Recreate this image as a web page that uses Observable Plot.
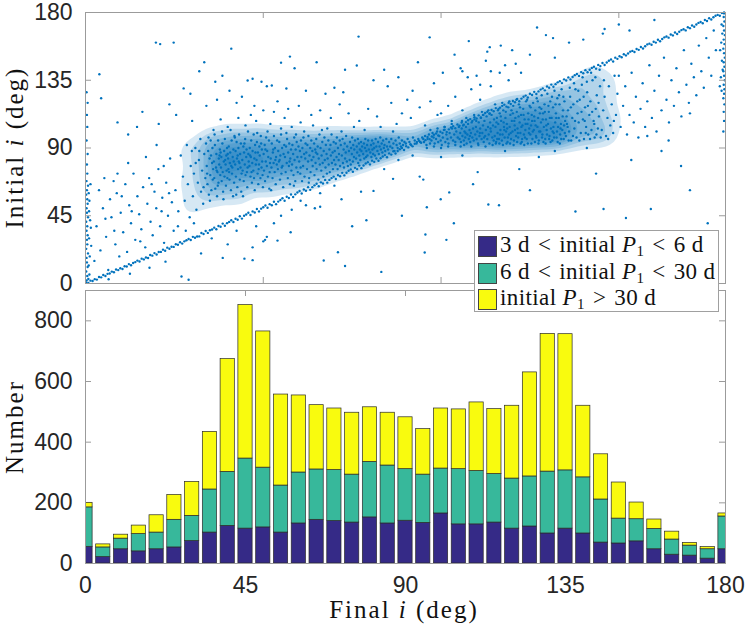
<!DOCTYPE html>
<html><head><meta charset="utf-8">
<script src="https://cdn.jsdelivr.net/npm/d3@7"></script>
<script src="https://cdn.jsdelivr.net/npm/@observablehq/plot@0.6"></script>
<style>
body{margin:0;background:#fff;}
#wrap{position:relative;width:747px;height:627px;overflow:hidden;}
#wrap svg{position:absolute;left:0;}
#legend{position:absolute;left:474px;top:230px;width:245px;height:82px;border:1px solid #a0a0a0;background:#fff;font-family:"Liberation Serif","DejaVu Serif",serif;font-size:23px;letter-spacing:0.4px;color:#111;box-sizing:border-box;}
.row{position:absolute;left:3px;height:26px;display:flex;align-items:center;white-space:nowrap;}
.sw{width:19px;height:21px;border:1px solid #444;box-sizing:border-box;margin-right:3px;}
.lt{margin:0 8px;}
sub{font-size:65%;vertical-align:-0.25em;}
</style></head><body><div id="wrap"></div>
<script>
// ---------- histogram data (bins of 5 deg, centred on 0..180) ----------
const binCenters = [0,5,10,15,20,25,30,35,40,45,50,55,60,65,70,75,80,85,90,95,100,105,110,115,120,125,130,135,140,145,150,155,160,165,170,175,180];
const countShort = [55,21,47,40,47,53,74,102,124,115,119,102,132,144,140,135,152,132,141,134,165,129,129,135,115,122,99,115,99,69,66,73,47,29,26,16,47];
const countMid   = [130,32,35,57,55,91,83,142,178,231,197,155,168,166,168,158,183,191,170,159,148,182,176,160,165,165,204,192,185,142,82,73,67,50,33,31,108];
const countLong  = [15,10,13,28,57,82,112,190,372,506,449,300,254,212,203,204,180,174,171,150,198,197,226,214,240,343,454,449,236,149,119,55,31,26,9,7,10];
const seriesNames = ["3 d < initial P1 < 6 d","6 d < initial P1 < 30 d","initial P1 > 30 d"];
const seriesColors = ["#352A87","#37B89B","#F9FB0E"];

// ---------- tick values ----------
const topYTicks = [0,45,90,135,180];
const topXTicks = [50,100,150];
const bottomXTicks = [0,45,90,135,180];
const bottomYTicks = [0,200,400,600,800];

// ---------- scatter data: [final i, initial i] pairs (deg) ----------
const diagonalBand = [0.2,0.5,0.8,0.4,1.4,1.9,2.0,1.7,2.6,2.9,3.2,2.6,3.8,4.3,4.4,4.1,5.0,5.6,5.6,5.0,6.2,6.4,6.8,6.6,7.4,7.9,8.0,7.5,8.6,9.3,9.2,8.9,9.8,10.1,10.4,9.6,11.0,11.5,11.6,11.3,12.2,12.9,12.8,12.1,13.4,13.6,14.0,14.2,14.6,15.2,15.2,14.6,15.8,16.5,16.4,16.0,17.0,17.3,17.6,16.9,18.2,18.9,18.8,18.5,19.4,20.2,20.0,19.3,20.6,20.9,21.2,21.0,21.8,22.5,22.4,21.8,23.0,23.8,23.6,23.1,24.2,24.4,24.8,24.3,25.4,26.1,26.0,25.7,26.6,27.4,27.2,26.5,27.8,28.0,28.4,28.7,29.0,29.6,29.6,28.9,
30.2,31.0,30.8,30.4,31.4,31.2,32.0,31.3,32.6,33.5,33.2,32.9,33.8,34.9,34.4,33.6,35.0,35.4,35.6,35.9,36.2,37.1,36.8,36.0,37.4,38.2,38.0,37.7,38.6,39.8,39.2,38.4,39.8,40.1,40.4,40.9,41.0,42.0,41.6,40.8,42.2,43.0,42.8,42.3,43.4,44.7,44.0,43.1,44.6,45.0,45.2,45.8,45.8,47.0,46.4,45.5,47.0,47.9,47.6,47.2,48.2,49.5,48.8,47.9,49.4,49.7,50.0,50.6,50.6,51.8,51.2,50.3,51.8,52.7,52.4,52.0,53.0,54.3,53.6,52.7,54.2,54.4,54.8,55.5,55.4,56.6,56.0,55.0,56.6,57.6,57.2,56.8,57.8,59.1,58.4,57.5,59.0,59.2,59.6,60.4,
60.2,61.4,60.8,59.8,61.4,62.4,62.0,61.6,62.6,64.0,63.2,62.2,63.8,64.0,64.4,65.2,65.0,66.3,65.6,64.6,66.2,67.2,66.8,66.4,67.4,68.8,68.0,67.0,68.6,68.8,69.2,70.0,69.8,71.0,70.4,69.4,71.0,72.0,71.6,71.2,72.2,73.5,72.8,71.8,73.4,73.6,74.0,74.9,74.6,75.8,75.2,74.2,75.8,76.8,76.4,76.0,77.0,78.3,77.6,76.6,78.2,78.4,78.8,79.7,79.4,80.5,80.0,79.1,80.6,81.6,81.2,80.8,81.8,83.0,82.4,81.5,83.0,83.2,83.6,84.4,84.2,85.3,84.8,83.9,85.4,86.4,86.0,85.6,86.6,87.8,87.2,86.3,87.8,88.0,88.4,89.2,89.0,90.0,89.6,88.7,
90.2,91.2,90.8,90.4,91.4,92.5,92.0,91.1,92.6,92.8,93.2,94.0,93.8,94.8,94.4,93.5,95.0,96.0,95.6,95.2,96.2,97.3,96.8,95.9,97.4,97.6,98.0,98.8,98.6,99.6,99.2,98.3,99.8,100.8,100.4,100.0,101.0,102.1,101.6,100.7,102.2,102.4,102.8,103.6,103.4,104.4,104.0,103.1,104.6,105.6,105.2,104.8,105.8,106.9,106.4,105.5,107.0,107.2,107.6,108.4,108.2,109.2,108.8,107.9,109.4,110.4,110.0,109.6,110.6,111.7,111.2,110.3,111.8,112.0,112.4,113.2,113.0,114.0,113.6,112.7,114.2,115.2,114.8,114.4,115.4,116.5,116.0,115.1,116.6,116.8,117.2,118.0,117.8,118.8,118.4,117.5,119.0,120.0,119.6,119.2,
120.2,121.2,120.8,120.4,121.4,122.5,122.0,121.1,122.6,122.8,123.2,124.0,123.8,124.8,124.4,123.5,125.0,126.0,125.6,125.2,126.2,127.3,126.8,125.9,127.4,127.6,128.0,128.8,128.6,129.6,129.2,128.3,129.8,130.8,130.4,130.0,131.0,132.1,131.6,130.7,132.2,132.4,132.8,133.6,133.4,134.4,134.0,133.1,134.6,135.6,135.2,134.8,135.8,136.9,136.4,135.5,137.0,137.2,137.6,138.4,138.2,139.2,138.8,137.9,139.4,140.4,140.0,139.6,140.6,141.7,141.2,140.3,141.8,142.0,142.4,143.2,143.0,144.0,143.6,142.7,144.2,145.2,144.8,144.4,145.4,146.5,146.0,145.1,146.6,146.8,147.2,148.0,147.8,148.8,148.4,147.5,149.0,150.0,149.6,149.2,
150.2,150.9,150.8,150.3,151.4,152.3,152.0,151.5,152.6,152.8,153.2,154.0,153.8,154.5,154.4,153.8,155.0,155.8,155.6,155.2,156.2,157.1,156.8,156.1,157.4,157.6,158.0,158.8,158.6,159.3,159.2,158.6,159.8,160.6,160.4,160.0,161.0,161.9,161.6,160.9,162.2,162.4,162.8,163.5,163.4,164.1,164.0,163.3,164.6,165.4,165.2,164.8,165.8,166.7,166.4,165.7,167.0,167.2,167.6,168.3,168.2,168.9,168.8,168.1,169.4,170.2,170.0,169.6,170.6,171.4,171.2,170.5,171.8,172.0,172.4,173.1,173.0,173.7,173.6,172.9,174.2,175.0,174.8,174.4,175.4,176.2,176.0,175.4,176.6,176.8,177.2,177.8,177.8,178.4,178.4,177.8,179.0,179.6,179.6,179.4];

const leftCluster = [25.3,62,26.1,48,26.8,85,27.4,71,27.9,55,28.5,92,28.8,66,29.3,44,29.6,78,29.9,88,
30.2,58,30.5,73,30.9,90,31.2,49,31.6,67,31.9,82,32.3,96,32.5,61,32.8,75,33.1,53,33.4,86,33.7,70,33.9,93,33.2,64,31.0,80,32.0,88,
34.1,78,34.3,66,34.5,88,34.7,59,34.9,83,35.1,72,35.2,95,35.4,62,35.6,80,35.7,90,35.8,69,35.9,76,34.6,97,35.3,85,34.2,73,35.0,55,
36.1,81,36.2,70,36.4,92,36.5,63,36.7,77,36.8,86,37.0,58,37.1,74,37.3,95,37.4,67,37.5,83,37.6,79,37.8,89,37.9,72,36.3,99,36.9,75,37.2,65,37.7,85,
38.1,77,38.2,84,38.3,68,38.5,93,38.6,74,38.7,61,38.9,81,39.0,88,39.1,71,39.2,96,39.4,79,39.5,65,39.6,85,39.7,75,39.8,90,38.4,101,38.8,56,39.3,82,39.9,70,38.0,87,
40.1,83,40.2,76,40.3,91,40.5,69,40.6,80,40.7,87,40.9,62,41.0,78,41.1,95,41.2,73,41.4,84,41.5,58,41.6,89,41.7,81,41.8,67,41.9,98,40.4,74,40.8,102,41.3,77,40.0,86,
42.1,79,42.2,88,42.3,71,42.5,94,42.6,83,42.7,64,42.9,76,43.0,90,43.1,81,43.2,99,43.4,69,43.5,86,43.6,77,43.7,93,43.9,73,42.4,59,42.8,85,43.3,80,43.8,61,42.0,97,
44.1,82,44.2,75,44.4,91,44.5,68,44.6,87,44.8,79,44.9,96,45.0,72,45.2,84,45.3,89,45.5,64,45.6,77,45.7,101,45.9,81,44.3,58,44.7,93,45.4,74,45.8,86,
46.1,78,46.2,90,46.4,71,46.5,84,46.6,95,46.8,67,46.9,80,47.0,88,47.2,75,47.3,99,47.5,83,47.6,62,47.7,92,47.9,79,46.3,85,46.7,74,47.4,70,47.8,87,
48.1,82,48.2,94,48.4,73,48.5,87,48.6,66,48.8,79,48.9,91,49.0,85,49.2,70,49.3,98,49.5,77,49.6,89,49.7,81,49.9,64,48.3,100,48.7,76,49.4,93,49.8,72,
50.1,86,50.2,75,50.4,92,50.5,68,50.7,81,50.8,97,51.0,78,51.1,88,51.3,71,51.4,84,51.6,95,51.7,63,51.9,80,50.6,89,51.2,101,51.8,74,
52.1,83,52.3,77,52.4,93,52.6,70,52.7,87,52.9,80,53.0,98,53.2,74,53.3,90,53.5,66,53.6,84,53.8,79,53.9,95,52.2,62,52.8,89,53.4,82,
54.1,76,54.2,88,54.4,81,54.5,94,54.7,69,54.8,85,55.0,99,55.1,73,55.3,90,55.4,78,55.6,64,55.7,86,55.9,92,54.6,82,55.2,77,
56.1,84,56.3,74,56.4,91,56.6,80,56.7,96,56.9,70,57.0,87,57.2,78,57.3,93,57.5,66,57.6,83,57.8,89,57.9,75,56.5,100,57.4,81,
58.1,79,58.2,92,58.4,86,58.5,72,58.7,97,58.8,82,59.0,68,59.1,89,59.3,77,59.4,94,59.6,84,59.7,74,59.9,91,58.6,65,59.2,99,
60.1,81,60.3,88,60.4,73,60.6,95,60.7,84,60.9,68,61.0,90,61.2,78,61.3,97,61.5,86,61.6,71,61.8,83,61.9,93,60.5,77,
62.1,87,62.3,76,62.4,92,62.6,81,62.7,98,62.9,70,63.0,85,63.2,90,63.3,74,63.5,95,63.6,82,63.8,88,63.9,78,62.8,67,
64.1,84,64.3,93,64.4,72,64.6,89,64.7,80,64.9,96,65.0,76,65.2,86,65.3,91,65.5,69,65.6,83,65.8,99,65.9,79,64.8,87,
66.1,90,66.3,75,66.4,85,66.6,94,66.7,80,66.9,71,67.0,88,67.2,97,67.3,82,67.5,77,67.6,92,67.8,86,67.9,73,
68.1,83,68.3,95,68.4,79,68.6,89,68.7,74,68.9,92,69.0,85,69.2,99,69.3,80,69.5,87,69.6,76,69.8,94,69.9,82,
70.1,88,70.3,79,70.4,93,70.6,84,70.7,97,70.9,76,71.0,90,71.2,82,71.3,86,71.5,95,71.6,78,71.8,92,
72.1,85,72.3,96,72.4,80,72.6,89,72.7,77,72.9,93,73.0,83,73.2,87,73.3,98,73.5,81,73.6,91,73.8,78,
74.1,88,74.3,82,74.4,94,74.6,79,74.7,90,74.9,86,75.0,97,75.2,81,75.3,92,75.5,84,75.6,89,75.8,95,
76.1,83,76.3,91,76.4,87,76.6,96,76.7,80,76.9,93,77.0,85,77.2,89,77.3,82,77.5,94,77.6,88,77.8,91,
78.1,86,78.3,93,78.4,83,78.6,90,78.7,96,78.9,84,79.0,88,79.2,92,79.3,85,79.5,95,79.7,89,
80.1,87,80.3,92,80.4,84,80.6,95,80.7,89,80.9,86,81.0,93,81.2,90,81.4,85,81.6,96,81.8,91,
82.1,88,82.3,94,82.5,86,82.7,91,82.9,97,83.1,89,83.3,93,83.5,87,83.7,95,83.9,90,84.1,92,84.3,88,84.6,96,84.8,91,
85.1,89,85.4,94,85.7,91,86.0,96,86.3,90,86.6,93,86.9,88,87.2,95,87.5,92,87.8,90,88.1,97,88.4,93,88.7,91,89.0,95,89.3,92,89.7,94,
90.1,93,90.6,96,91.1,94,91.6,92,92.1,97,92.6,95,93.1,93,93.6,96,94.1,94,94.7,97];

const leftSparse = [2.5,15,3.1,38,3.8,62,4.2,22,4.9,50,5.3,70,5.8,31,6.4,9,6.9,56,7.3,44,7.9,68,8.4,26,8.8,60,9.5,18,9.9,47,10.6,34,11.2,66,11.7,21,12.3,52,12.8,40,13.5,73,14.0,29,14.6,58,15.1,46,15.7,36,16.2,64,16.8,24,17.4,53,17.9,70,18.3,41,18.9,32,19.4,61,19.9,50,20.5,76,21.0,38,21.6,57,22.1,27,22.7,67,23.2,45,23.8,83,24.3,54,24.8,35,5.6,43,8.1,35,10.2,58,13.0,48,15.4,28,18.6,66,21.4,48,23.5,60,9.0,73,12.0,80,17.0,84,20.0,92,22.0,78,26.0,38,28.2,35,30.5,40,
6.5,2.8,12.5,6.5,18.0,10.5,22.5,14.5,27.0,4.6,29.0,2.5,32.5,20.0,38.6,17.0,40.0,26.0,44.7,16.5,35.5,30.0,42.5,35.0,48.0,38.0,50.5,29.0,47.0,24.0];

const upperOutliers = [19.8,160,21.0,159,24.8,160,41.0,156,3.9,139,4.4,123,33.4,147,32.0,141,27.6,129.6,23.6,119,16.0,114,9.0,107,25.5,112,20.6,106,76.8,164,96.8,163.5,107.8,161,57.5,150.7,55.0,146.7,65.0,147,58.8,143,73.0,142,76.3,144.8,93.5,147,103.8,152,113.0,154,45.6,134.8,47.0,136,49.5,134,51.0,131,52.4,131.5,56.5,129.5,36.5,134,38.5,138,40.5,128,37.0,122,42.5,120,44.0,124,29.5,126,34.0,118,12.0,99,14.5,104,30.0,108,62.0,128,67.5,126,70.0,130,72.5,127,81.0,135,85.0,131,88.0,137,92.0,128,98.0,133,84.0,142,100.5,140,90.5,122,60.0,118,63.5,112,66.0,115,69.0,110,71.5,119,74.0,113,77.0,108,79.5,116,82.0,111,86.0,120,87.5,106,89.0,113,91.5,110,94.0,117,95.5,105,97.0,121,99.0,112,46.5,112,48.0,108,50.0,115,52.0,106,54.0,121,56.0,110,58.0,104,60.5,107,43.0,110,45.0,105,47.5,118,53.0,114,57.0,116,64.0,105,68.0,103,75.5,104,78.5,102,83.0,104,86.5,101,55.0,103,61.5,101,66.5,102,72.0,101,40.0,104,38.0,109,36.0,102,102.0,118,104.0,124,106.0,115,108.5,129,111.0,122,114.0,131,110.0,138,116.5,140,119.0,135,121.0,146,105.5,143,103.0,108,101.0,104,100.0,113,
127.0,170,129.5,165,131.5,163,146.0,169,145.5,166,116.8,158,125.0,152,136.0,160,132.0,150,153.0,168,113.7,157,106.0,141,107.5,137,112.6,148,114.0,141,120.0,155,140.0,162,150.0,172,160.0,175,118.0,145,122.5,140,111.0,132];

const edgePoints = [0.3,2,0.5,5,0.2,8,0.6,11,0.4,14,0.3,17,0.7,20,0.2,23,0.5,26,0.4,29,0.6,32,0.3,35,0.5,38,0.2,41,0.7,44,0.4,47,0.3,50,0.6,53,0.5,56,0.2,59,0.4,62,0.7,65,0.3,68,0.5,73,0.4,79,0.6,86,0.3,95,0.5,104,0.4,112,0.6,120,0.3,127,1.1,6,1.2,18,1.0,30,1.3,42,1.1,55,1.4,66,0.9,12,1.0,48,1.6,25,1.5,37,0.8,3,0.9,60,
179.6,180,179.5,177,179.7,174,179.4,171,179.6,168,179.8,165,179.5,162,179.7,159,179.4,156,179.6,153,179.8,150,179.5,147,179.7,144,179.4,141,179.6,138,179.8,135,179.5,132,179.7,129,179.6,126,179.4,123,179.7,119,179.5,114,179.6,108,179.4,101,178.9,172,178.8,160,179.0,148,178.7,137,178.9,128,179.1,166,179.2,142,178.5,155,178.4,131];

const rightCluster = [95.2,94,95.5,98,95.9,92,96.2,96,96.6,99,96.9,93,97.3,95,97.6,100,97.9,97,98.2,93,98.6,96,98.9,101,99.2,94,99.5,98,99.9,95,100.2,92,100.5,97,100.8,102,101.2,94,101.5,99,101.8,96,102.1,93,102.4,100,102.8,97,103.1,103,103.4,95,103.7,99,104.0,94,104.3,101,104.7,97,105.0,104,96.0,90,98.0,91,100.0,90,102.0,91,104.0,92,99.0,103,101.0,104,97.0,102,103.0,106,
105.2,96,105.4,100,105.6,94,105.8,103,106.0,98,106.2,105,106.4,95,106.6,101,106.8,97,107.0,104,107.2,93,107.4,99,107.6,106,107.8,96,108.0,102,108.2,94,108.4,100,108.6,107,108.8,97,109.0,103,109.2,95,109.4,109,109.6,99,109.8,104,110.0,96,110.2,101,110.4,93,110.6,107,110.8,98,111.0,103,111.2,110,111.4,96,111.6,100,111.8,105,112.0,94,112.2,108,112.4,98,112.6,102,112.8,111,113.0,96,113.2,104,113.4,99,113.6,93,113.8,107,114.0,101,114.2,112,114.4,97,114.6,105,114.8,95,105.5,91,106.5,92,108.5,91,110.5,92,112.5,91,114.5,92,107.1,110,109.3,112,111.5,114,113.3,115,106.9,100,108.1,98,110.9,100,112.1,97,113.9,103,114.9,109,105.9,108,109.9,108,111.9,112,113.7,113,
115.1,98,115.3,104,115.5,94,115.7,110,115.9,100,116.1,106,116.3,96,116.5,113,116.7,102,116.9,108,117.1,95,117.3,99,117.5,115,117.7,104,117.9,97,118.1,110,118.3,101,118.5,106,118.7,94,118.9,117,119.1,99,119.3,104,119.5,112,119.7,96,119.9,108,120.1,101,120.3,118,120.5,95,120.7,105,120.9,110,121.1,98,121.3,114,121.5,103,121.7,97,121.9,119,122.1,107,122.3,100,122.5,112,122.7,94,122.9,105,123.1,116,123.3,99,123.5,109,123.7,102,123.9,121,124.1,96,124.3,106,124.5,113,124.7,100,124.9,118,115.2,119,116.2,116,117.2,120,118.2,114,119.2,121,120.2,113,121.2,122,122.2,117,123.2,112,124.2,122,115.6,107,116.6,99,117.6,107,118.6,103,119.6,100,120.6,108,121.6,100,122.6,104,123.6,97,124.6,109,115.8,96,116.8,111,117.8,102,118.8,97,119.8,115,120.8,102,121.8,111,122.8,96,123.8,106,124.8,103,116.4,93,118.4,93,120.4,92,122.4,93,124.4,93,117.4,92,119.4,93,121.4,94,123.4,92,115.4,93,
125.1,99,125.3,105,125.5,112,125.7,96,125.9,120,126.1,102,126.3,108,126.5,115,126.7,98,126.9,123,127.1,104,127.3,110,127.5,95,127.7,117,127.9,101,128.1,107,128.3,125,128.5,99,128.7,113,128.9,104,129.1,119,129.3,96,129.5,109,129.7,102,129.9,126,130.1,106,130.3,114,130.5,98,130.7,121,130.9,103,131.1,110,131.3,95,131.5,117,131.7,100,131.9,128,132.1,107,132.3,113,132.5,97,132.7,123,132.9,104,133.1,110,133.3,119,133.5,99,133.7,106,133.9,129,134.1,102,134.3,115,134.5,96,134.7,121,134.9,108,125.2,117,126.2,111,127.2,121,128.2,116,129.2,114,130.2,118,131.2,124,132.2,119,133.2,125,134.2,111,125.6,108,126.6,105,127.6,101,128.6,109,129.6,105,130.6,110,131.6,104,132.6,101,133.6,103,134.6,105,125.8,101,126.8,97,127.8,113,128.8,94,129.8,99,130.8,94,131.8,97,132.8,94,133.8,96,134.8,100,125.4,93,126.4,94,127.4,93,128.4,97,129.4,93,130.4,96,131.4,101,132.4,110,133.4,93,134.4,124,
135.1,98,135.4,106,135.7,115,136.0,101,136.3,124,136.6,95,136.9,110,137.2,119,137.5,103,137.8,129,138.1,97,138.4,113,138.7,107,139.0,122,139.3,100,139.6,132,139.9,109,140.2,96,140.5,117,140.8,104,141.1,127,141.4,99,141.7,112,142.0,121,142.3,102,142.6,135,142.9,108,143.2,97,143.5,116,143.8,125,144.1,103,144.4,111,144.7,131,135.3,111,135.9,95,136.5,117,137.1,98,137.7,108,138.3,121,138.9,95,139.5,114,140.1,124,140.7,100,141.3,118,141.9,96,142.5,114,143.1,106,143.7,99,144.3,120,144.9,97,136.2,130,137.4,133,138.6,128,139.8,137,141.0,134,142.2,140,143.4,137,144.6,142,135.6,104,140.4,108,
145.2,102,145.6,115,146.0,124,146.4,98,146.8,110,147.2,131,147.6,105,148.0,119,148.4,100,148.8,138,149.2,112,149.6,126,145.8,135,147.0,96,148.6,108];

const rightSparse = [150.5,104,151.2,118,151.8,131,152.3,99,153.0,112,153.6,140,154.2,107,154.8,124,155.5,97,156.1,116,156.7,133,157.4,104,158.0,121,158.6,145,159.3,110,160.0,128,160.6,101,161.3,138,162.0,115,162.7,150,163.4,122,164.1,107,164.8,135,165.5,118,166.2,143,166.9,127,167.6,111,168.3,155,169.0,132,169.7,120,170.4,146,171.1,137,171.8,125,172.5,158,173.2,141,173.9,130,174.6,163,175.3,150,176.0,138,176.7,168,177.3,155,158.0,98,164.0,95,170.0,113,150.0,138,
110.3,74,109.0,66,102.3,60.5,99.9,56,94.0,71,95.0,69,96.0,50.6,103.6,40,101.5,29,95.6,32.5,95.4,20.6,83.2,7.7,73.0,11.6,71.0,20.8,67.0,15.3,79.0,42,75.0,38,72.0,56,77.5,61,81.0,61.5,86.5,69.5,57.7,34,54.0,28.5,50.0,28,51.0,31,47.0,15.5,64.5,50,66.0,51,62.0,52,60.5,55,113.3,52.5,153.5,82,167.5,78,143.6,73,122.0,76,127.5,84,116.3,52,137.8,47.8,145.7,49.5,159.0,49.5,152.0,43.5,89.0,45,106.0,85,118.0,88,132.0,88,141.0,90,125.0,62,134.0,30,162.0,88,170.0,62,175.0,40,88.0,82,92.0,85,100.0,84,84.0,76,70.0,65,66.0,60,58.0,49,55.0,45,53.0,40];

// ---------- build tables ----------
function toPoints(flat) { const out = []; for (let k = 0; k < flat.length; k += 2) out.push({finalI: flat[k], initialI: flat[k+1]}); return out; }
const scatter = [diagonalBand, leftCluster, leftSparse, upperOutliers, edgePoints, rightCluster, rightSparse].flatMap(toPoints);
const clusterCores = [leftCluster, rightCluster].flatMap(toPoints);

const bars = [];
binCenters.forEach((c, k) => {
  const vals = [countShort[k], countMid[k], countLong[k]];
  let base = 0;
  vals.forEach((v, s) => { bars.push({center: c, series: seriesNames[s], lo: base, hi: base + v}); base += v; });
});

const W = 747, ML = 85, MR = 22;
const frameColor = "#9b9b9b";
const dotBlue = "#0072BD";
const tickStyle = {fontFamily: "'Liberation Sans', Arial, Helvetica, sans-serif", fontSize: "23px", color: "#262626", background: "transparent", overflow: "visible"};

// ---------- top panel ----------
const topH = 288, topMT = 12, topMB = 5;
const topFrameH = topH - topMT - topMB, frameW = W - ML - MR;
const topPanel = Plot.plot({
  width: W, height: topH, marginLeft: ML, marginRight: MR, marginTop: topMT, marginBottom: topMB,
  style: tickStyle,
  x: {domain: [0, 180], axis: null},
  y: {domain: [0, 180]},
  marks: [
    Plot.density(clusterCores, {x: "finalI", y: "initialI", fill: dotBlue, fillOpacity: 0.16, stroke: null, bandwidth: 6, thresholds: 10, clip: true}),
    Plot.dot(scatter, {x: "finalI", y: "initialI", r: 1.2, fill: dotBlue, stroke: null}),
    Plot.tickY(topYTicks.slice(1, -1), {y: d => d, insetRight: frameW - 6, stroke: frameColor}),
    Plot.tickY(topYTicks.slice(1, -1), {y: d => d, insetLeft: frameW - 6, stroke: frameColor}),
    Plot.tickX(topXTicks, {x: d => d, insetTop: topFrameH - 6, stroke: frameColor}),
    Plot.tickX(topXTicks, {x: d => d, insetBottom: topFrameH - 6, stroke: frameColor}),
    Plot.axisY(topYTicks, {anchor: "left", tickSize: 0, tickPadding: 13, label: null}),
    Plot.frame({stroke: frameColor})
  ]
});
topPanel.style.top = "0px";

// ---------- bottom panel ----------
const botH = 339, botMT = 2, botMB = 64;
const botFrameH = botH - botMT - botMB;
const bottomPanel = Plot.plot({
  width: W, height: botH, marginLeft: ML, marginRight: MR, marginTop: botMT, marginBottom: botMB,
  style: tickStyle,
  x: {domain: [0, 180]},
  y: {domain: [0, 900]},
  color: {domain: seriesNames, range: seriesColors},
  marks: [
    Plot.tickY(bottomYTicks.slice(1), {y: d => d, insetRight: frameW - 6, stroke: frameColor}),
    Plot.tickY(bottomYTicks.slice(1), {y: d => d, insetLeft: frameW - 6, stroke: frameColor}),
    Plot.tickX(bottomXTicks.slice(1, -1), {x: d => d, insetBottom: botFrameH - 6, stroke: frameColor}),
    Plot.tickX(bottomXTicks.slice(1, -1), {x: d => d, insetTop: botFrameH - 6, stroke: frameColor}),
    Plot.rect(bars, {x1: d => d.center - 2, x2: d => d.center + 2, y1: "lo", y2: "hi", fill: "series", stroke: "#2a2a2a", strokeWidth: 0.7, clip: true}),
    Plot.axisY(bottomYTicks, {anchor: "left", tickSize: 0, tickPadding: 13, label: null}),
    Plot.axisX(bottomXTicks, {anchor: "bottom", tickSize: 0, tickPadding: 13, label: null}),
    Plot.frame({stroke: frameColor})
  ]
});
bottomPanel.style.top = topH + "px";

const wrap = document.getElementById("wrap");
wrap.appendChild(topPanel);
wrap.appendChild(bottomPanel);

// ---------- axis titles (serif, italic i) ----------
const serif = "'Liberation Serif', 'DejaVu Serif', serif";
function title(svg, x, y, rotate, parts) {
  const t = d3.select(svg).append("text")
    .attr("transform", `translate(${x},${y})` + (rotate ? " rotate(-90)" : ""))
    .attr("text-anchor", "middle").attr("fill", "#111")
    .style("font-family", serif).style("font-size", "25px").style("letter-spacing", "2px");
  parts.forEach(([s, it]) => t.append("tspan").attr("font-style", it ? "italic" : null).text(s));
}
title(topPanel, 23, 147.5, true, [["Initial ", false], ["i", true], [" (deg)", false]]);
title(bottomPanel, 23, 427 - topH, true, [["Number", false]]);
title(bottomPanel, 404, 618 - topH, false, [["Final ", false], ["i", true], [" (deg)", false]]);

// ---------- legend ----------
const legend = document.createElement("div");
legend.id = "legend";
const legendHTML = [
  '3 d<span class="lt">&lt;</span>initial&nbsp;<i>P</i><sub>1</sub><span class="lt">&lt;</span>6 d',
  '6 d<span class="lt">&lt;</span>initial&nbsp;<i>P</i><sub>1</sub><span class="lt">&lt;</span>30 d',
  'initial&nbsp;<i>P</i><sub>1</sub><span class="lt">&gt;</span>30 d'
];
[2, 29, 55].forEach((t, k) => {
  const row = document.createElement("div");
  row.className = "row"; row.style.top = t + "px";
  row.innerHTML = `<div class="sw" style="background:${seriesColors[k]}"></div><span>${legendHTML[k]}</span>`;
  legend.appendChild(row);
});
wrap.appendChild(legend);
</script></body></html>
